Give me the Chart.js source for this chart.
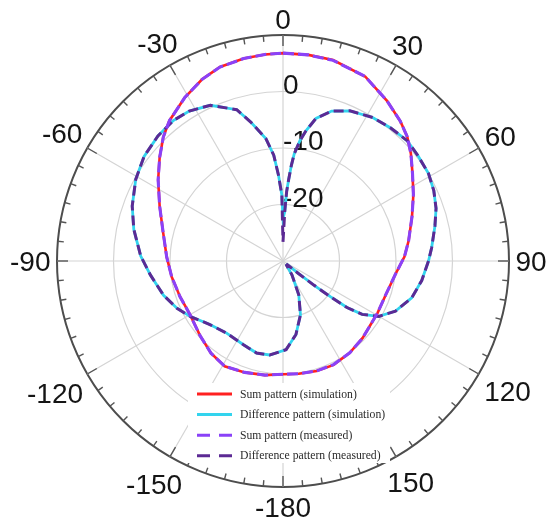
<!DOCTYPE html>
<html>
<head>
<meta charset="utf-8">
<script src="https://cdn.jsdelivr.net/npm/chart.js@4.4.1/dist/chart.umd.min.js"></script>
<style>
  html, body { margin: 0; padding: 0; background: #fff; }
  #wrap { position: relative; width: 547px; height: 523px; }
</style>
</head>
<body>
<div id="wrap"><canvas id="c"></canvas></div>
<script>
// Angle ticks around the rim (degrees clockwise from top) and their printed text
const angleTickAngles = [0, 30, 60, 90, 120, 150, 180, 210, 240, 270, 300, 330];
const angleTickLabels = ['0', '30', '60', '90', '120', '150', '-180', '-150', '-120', '-90', '-60', '-30'];

// Radial (dB) ticks printed along the 0 degree axis
const radialTickValues = [0, -10, -20];
const radialTickLabels = ['0', '-10', '-20'];

// Sum pattern: angle (deg) and normalised gain (dB)
const sumAngles = [0, 7, 14, 24, 33, 40, 45, 50, 56, 63, 71, 81, 88, 97, 108, 119, 127, 134, 144, 154, 163, 172, 180,
  -171, -161, -151, -142, -132, -120, -109, -98, -88, -77, -66, -57, -50, -44, -39, -31, -24, -18, -11, -5];
const sumSimulated = [6.8, 6.75, 6.65, 5.75, 3.8, 2.3, 1.1, -0.45, -2.35, -4.1, -5.85, -7.5, -8.5, -10.0, -10.85, -10.9, -10.8, -10.4, -9.9, -9.55, -9.65, -9.85, -9.95,
  -9.55, -9.15, -8.7, -9.3, -10.25, -11.0, -10.7, -10.1, -9.4, -8.25, -6.1, -3.65, -1.5, 0.5, 1.95, 3.75, 5.2, 6.1, 6.5, 6.7];
const sumMeasured = [6.8, 6.75, 6.6, 5.75, 3.8, 2.3, 1.1, -0.45, -2.35, -4.1, -5.85, -7.5, -8.5, -10.0, -10.85, -10.9, -10.8, -10.4, -9.9, -9.6, -9.65, -9.85, -9.95,
  -9.55, -9.15, -8.7, -9.3, -10.25, -11.0, -10.7, -10.1, -9.4, -8.25, -6.1, -3.65, -1.5, 0.5, 1.95, 3.75, 5.2, 6.1, 6.5, 6.7];

// Difference pattern: angle (deg) and normalised gain (dB)
const diffAngles = [-1, 0, 2, 3, 4, 5, 6, 8, 10, 13, 18, 24, 32, 39, 46, 52, 59, 65, 71, 77, 85, 90, 98, 106, 114, 120,
  124, 126, 127, 128, 129, 131, 140, 147, 155, 162, 170, 178, -172, -164, -155, -142, -131, -121, -114, -106, -96, -88,
  -78, -70, -61, -53, -45, -38, -32, -25, -17, -13, -8, -5, -3];
const diffSimulated = [-18.3, -22.5, -21.3, -17.7, -15.5, -13.0, -10.9, -8.5, -6.6, -4.1, -2.1, -0.9, -0.05, 0.3, 0.6, 0.3, 0.05, -0.55, -1.35, -2.4, -3.6, -4.25, -5.2, -6.3, -8.2, -10.4,
  -13.1, -16.0, -19.5, -23, -26.5, -29, -29, -27.1, -23.4, -20.0, -16.8, -14.3, -13.2, -13.05, -13.6, -13.8, -12.85, -10.9, -9.45, -8.0, -6.4, -4.8,
  -3.0, -1.6, -0.2, 0.78, 1.3, 1.54, 1.3, 0.41, -2.0, -4.8, -8.1, -11.2, -14.8];
const diffMeasured = [-18.3, -26.6, -21.3, -17.7, -15.5, -13.0, -10.9, -8.5, -6.6, -4.1, -2.1, -0.9, -0.05, 0.3, 0.6, 0.3, 0.05, -0.55, -1.35, -2.4, -3.6, -4.25, -5.2, -6.3, -8.2, -10.4,
  -13.1, -16.0, -19.5, -23, -26.5, -29, -29, -27.1, -23.4, -20.0, -16.8, -14.3, -13.2, -13.05, -13.6, -13.8, -12.85, -10.9, -9.45, -8.0, -6.4, -4.8,
  -3.0, -1.6, -0.2, 0.78, 1.3, 1.54, 1.3, 0.41, -2.0, -4.8, -8.1, -11.2, -14.8];

const seriesNames = ['Sum pattern (simulation)', 'Difference pattern (simulation)', 'Sum pattern (measured)', 'Difference pattern (measured)'];
const seriesColors = ['#ff2020', '#33d4ee', '#8a42f8', '#5c2a94'];

// One category per degree, 0..359 clockwise from the top
const degreeLabels = Array.from({ length: 360 }, (_, i) => String(i <= 180 ? i : i - 360));

function onDegreeRing(angles, values) {
  const ring = new Array(360).fill(null);
  angles.forEach((a, k) => { ring[((a % 360) + 360) % 360] = values[k]; });
  return ring;
}

const FONT_SANS = '"Liberation Sans", Arial, Helvetica, sans-serif';
const FONT_SERIF = '"Liberation Serif", "Times New Roman", serif';

const polarDecor = {
  id: 'polarDecor',
  beforeDatasetsDraw(chart) {
    const s = chart.scales.r;
    const ctx = chart.ctx;
    const R = s.drawingArea;
    ctx.save();
    // rim tick marks every 5 degrees
    ctx.strokeStyle = '#555';
    ctx.lineWidth = 1.4;
    for (let i = 0; i < 360; i += 5) {
      const len = i % 30 === 0 ? 11 : 6;
      const a = s.getPointPosition(i, R);
      const b = s.getPointPosition(i, R - len);
      ctx.beginPath();
      ctx.moveTo(a.x, a.y);
      ctx.lineTo(b.x, b.y);
      ctx.stroke();
    }
    // angle labels outside the rim
    ctx.font = '28px ' + FONT_SANS;
    ctx.fillStyle = '#151515';
    ctx.textAlign = 'center';
    ctx.textBaseline = 'alphabetic';
    const capH = 20;
    angleTickAngles.forEach((deg, k) => {
      const text = angleTickLabels[k];
      const w = ctx.measureText(text).width;
      const rad = deg * Math.PI / 180;
      const gap = 6.5 + 3 * Math.max(0, -Math.cos(rad));
      const d = R + gap + Math.abs(Math.sin(rad)) * w / 2 + Math.abs(Math.cos(rad)) * capH / 2;
      const p = s.getPointPosition(deg, d);
      ctx.fillText(text, p.x, p.y + capH / 2);
    });
    // dB labels along the 0 degree axis
    ctx.textAlign = 'left';
    radialTickValues.forEach((v, k) => {
      const r = s.getDistanceFromCenterForValue(v);
      ctx.fillText(radialTickLabels[k], s.xCenter, s.yCenter - r + 2);
    });
    ctx.restore();
  },
  afterDraw(chart) {
    const s = chart.scales.r;
    const ctx = chart.ctx;
    const x0 = s.xCenter - 95, y0 = s.yCenter + 122;
    ctx.save();
    ctx.fillStyle = '#fff';
    ctx.fillRect(x0, y0, 202, 80);
    ctx.font = '11.7px ' + FONT_SERIF;
    ctx.textAlign = 'left';
    ctx.textBaseline = 'middle';
    seriesNames.forEach((name, k) => {
      const y = y0 + 11 + k * 20.6;
      ctx.strokeStyle = seriesColors[k];
      ctx.lineWidth = 3;
      ctx.setLineDash(k >= 2 ? [13, 9] : []);
      ctx.beginPath();
      ctx.moveTo(x0 + 9, y);
      ctx.lineTo(x0 + 44, y);
      ctx.stroke();
      ctx.fillStyle = '#2a2a2a';
      ctx.fillText(name, x0 + 52, y + 0.5);
    });
    ctx.restore();
  }
};

new Chart(document.getElementById('c'), {
  type: 'radar',
  data: {
    labels: degreeLabels,
    datasets: [
      { label: seriesNames[0], data: onDegreeRing(sumAngles, sumSimulated), borderColor: seriesColors[0], borderWidth: 2.6, order: 1 },
      { label: seriesNames[1], data: onDegreeRing(diffAngles, diffSimulated), borderColor: seriesColors[1], borderWidth: 2.8, order: 1 },
      { label: seriesNames[2], data: onDegreeRing(sumAngles, sumMeasured), borderColor: seriesColors[2], borderWidth: 3.1, borderDash: [11, 4], order: 0 },
      { label: seriesNames[3], data: onDegreeRing(diffAngles, diffMeasured), borderColor: seriesColors[3], borderWidth: 3, borderDash: [10, 5], order: 0 }
    ]
  },
  options: {
    responsive: true,
    maintainAspectRatio: false,
    animation: false,
    spanGaps: true,
    layout: { padding: { left: 57, right: 37, top: 35, bottom: 35 } },
    elements: {
      line: { tension: 0, fill: false },
      point: { radius: 0, hoverRadius: 0 }
    },
    plugins: { legend: { display: false }, tooltip: { enabled: false } },
    scales: {
      r: {
        min: -30,
        max: 10,
        startAngle: 0,
        ticks: { display: false, stepSize: 10 },
        pointLabels: { display: false },
        grid: {
          circular: true,
          color: (c) => (c.tick && c.tick.value === 10) ? '#4d4d4d' : '#d4d4d4',
          lineWidth: (c) => (c.tick && c.tick.value === 10) ? 2 : 1.2
        },
        angleLines: {
          color: '#d4d4d4',
          lineWidth: (c) => (c.index % 30 === 0 ? 1.2 : 0)
        }
      }
    }
  },
  plugins: [polarDecor]
});
</script>
</body>
</html>
